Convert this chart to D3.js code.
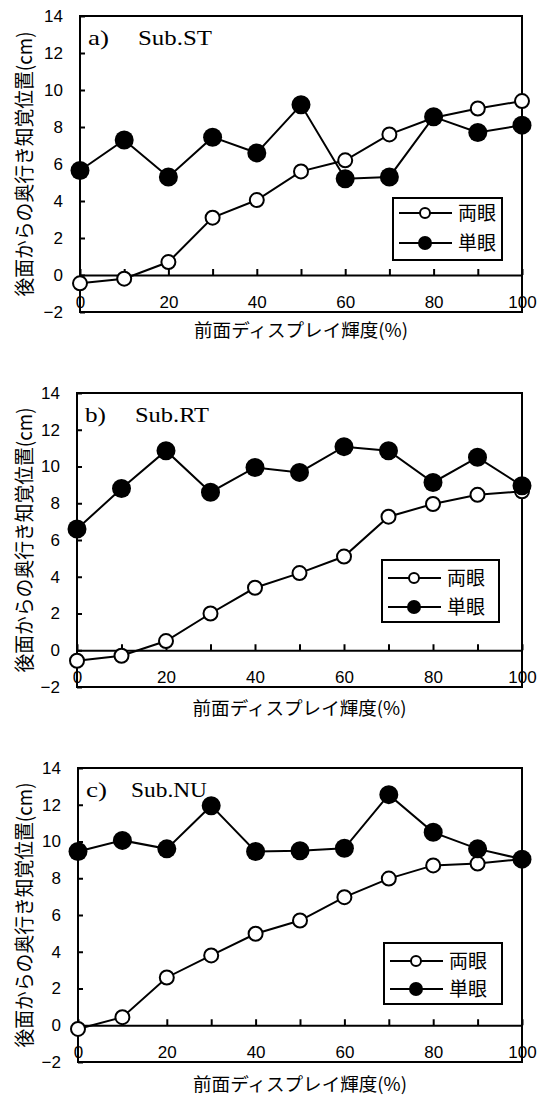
<!DOCTYPE html>
<html>
<head>
<meta charset="utf-8">
<script src="https://cdn.jsdelivr.net/npm/d3@7"></script>
<style>
  body { margin: 0; background: #fff; }
  svg { display: block; }
</style>
</head>
<body>
<div id="chart"></div>
<script>

// front display luminance (%)
var xVals = [0, 10, 20, 30, 40, 50, 60, 70, 80, 90, 100];
var xTicks = [0, 10, 20, 30, 40, 50, 60, 70, 80, 90, 100];
var xLabels = [0, 20, 40, 60, 80, 100];
var yTicks = [-2, 0, 2, 4, 6, 8, 10, 12, 14];

var seriesNames = ["両眼", "単眼"];
var panelLetters = ["a)", "b)", "c)"];
var subjects = ["Sub.ST", "Sub.RT", "Sub.NU"];

var binoA = [-0.45, -0.2, 0.7, 3.1, 4.05, 5.6, 6.2, 7.6, 8.5, 9.0, 9.4];
var monoA = [5.65, 7.3, 5.3, 7.45, 6.6, 9.2, 5.2, 5.3, 8.55, 7.7, 8.1];
var binoB = [-0.57, -0.3, 0.5, 2.0, 3.4, 4.2, 5.1, 7.27, 7.96, 8.46, 8.65];
var monoB = [6.6, 8.8, 10.86, 8.6, 9.95, 9.68, 11.08, 10.86, 9.13, 10.5, 8.95];
var binoC = [-0.2, 0.44, 2.6, 3.8, 4.98, 5.7, 6.97, 7.98, 8.7, 8.8, 9.04];
var monoC = [9.46, 10.06, 9.6, 11.95, 9.46, 9.5, 9.63, 12.55, 10.5, 9.6, 9.04];

var xTitle = "前面ディスプレイ輝度(%)";
var yTitle = "後面からの奥行き知覚位置(cm)";

var W = 552, H = 1095;
var JP = "'Noto Sans CJK JP', sans-serif";
var SANS = "'Liberation Sans', Arial, sans-serif";
var SERIF = "'Liberation Serif', 'Times New Roman', serif";

// box of each panel and where its legend sits
var panels = [
    {left: 80, right: 522, top: 16, bottom: 312, xTitleY: 337, legX: 393, legY: 198, legW: 109, legH: 62, rows: [15, 45], bino: binoA, mono: monoA},
    {left: 77, right: 522, top: 393, bottom: 687, xTitleY: 715, legX: 382, legY: 560, legW: 117, legH: 62, rows: [18, 47], bino: binoB, mono: monoB},
    {left: 78, right: 522, top: 768, bottom: 1062, xTitleY: 1091, legX: 384, legY: 943, legW: 118, legH: 61, rows: [18, 46], bino: binoC, mono: monoC}
];

var svg = d3.select('#chart')
    .append('svg')
    .attr('width', W)
    .attr('height', H);

panels.forEach(function(p, i) {

    var x = d3.scaleLinear().domain([0, 100]).range([p.left, p.right]);
    var y = d3.scaleLinear().domain([-2, 14]).range([p.bottom, p.top]);

    var g = svg.append('g');

    // y axis title
    var ty = (p.top + p.bottom) / 2;
    g.append('text')
        .attr('transform', 'translate(32,' + ty + ') rotate(-90)')
        .attr('text-anchor', 'middle')
        .attr('textLength', 265)
        .attr('lengthAdjust', 'spacingAndGlyphs')
        .style('font-family', JP)
        .style('font-size', '20px')
        .text(yTitle);

    // x axis title
    g.append('text')
        .attr('x', (p.left + p.right) / 2)
        .attr('y', p.xTitleY)
        .attr('text-anchor', 'middle')
        .attr('textLength', 214)
        .attr('lengthAdjust', 'spacingAndGlyphs')
        .style('font-family', JP)
        .style('font-size', '18px')
        .text(xTitle);

    // y axis, ticks pointing into the plot
    var yAxis = d3.axisLeft(y)
        .tickValues(yTicks)
        .tickSizeInner(-5)
        .tickSizeOuter(0)
        .tickPadding(17);
    var ga = g.append('g')
        .attr('transform', 'translate(' + p.left + ',0)')
        .call(yAxis);
    ga.select('.domain').remove();
    ga.selectAll('line').attr('stroke', '#000').attr('stroke-width', 2);
    ga.selectAll('text')
        .style('font-family', SANS)
        .style('font-size', '17px')
        .attr('fill', '#000');

    // x axis on the zero line, ticks pointing up, labels at the bottom
    var xAxis = d3.axisBottom(x)
        .tickValues(xTicks)
        .tickSizeInner(-6)
        .tickSizeOuter(0)
        .tickPadding(21)
        .tickFormat(function(d) { return xLabels.indexOf(d) >= 0 ? d : ""; });
    var gx = g.append('g')
        .attr('transform', 'translate(0,' + y(0) + ')')
        .call(xAxis);
    gx.select('.domain').attr('stroke', '#000').attr('stroke-width', 2);
    gx.selectAll('line').attr('stroke', '#000').attr('stroke-width', 2);
    gx.selectAll('text')
        .style('font-family', SANS)
        .style('font-size', '17px')
        .attr('fill', '#000');

    // plot border
    g.append('rect')
        .attr('x', p.left)
        .attr('y', p.top)
        .attr('width', p.right - p.left)
        .attr('height', p.bottom - p.top)
        .attr('fill', 'none')
        .attr('stroke', '#000')
        .attr('stroke-width', 2);

    // panel label
    g.append('text')
        .attr('x', p.left + 8)
        .attr('y', p.top + 29)
        .attr('textLength', 21)
        .attr('lengthAdjust', 'spacingAndGlyphs')
        .style('font-family', SERIF)
        .style('font-size', '22px')
        .text(panelLetters[i]);
    g.append('text')
        .attr('x', p.left + (i == 2 ? 53 : 58))
        .attr('y', p.top + 29)
        .attr('textLength', i == 2 ? 76 : 74)
        .attr('lengthAdjust', 'spacingAndGlyphs')
        .style('font-family', SERIF)
        .style('font-size', '22px')
        .text(subjects[i]);

    var line = d3.line()
        .x(function(d, k) { return x(xVals[k]); })
        .y(function(d) { return y(d); });

    // binocular: open circles
    g.append('path')
        .attr('d', line(p.bino))
        .attr('fill', 'none')
        .attr('stroke', '#000')
        .attr('stroke-width', 2);
    g.selectAll('.bino')
        .data(p.bino)
        .enter()
        .append('circle')
        .attr('class', 'bino')
        .attr('cx', function(d, k) { return x(xVals[k]); })
        .attr('cy', function(d) { return y(d); })
        .attr('r', 7)
        .attr('fill', '#fff')
        .attr('stroke', '#000')
        .attr('stroke-width', 2);

    // monocular: filled circles
    g.append('path')
        .attr('d', line(p.mono))
        .attr('fill', 'none')
        .attr('stroke', '#000')
        .attr('stroke-width', 2);
    g.selectAll('.mono')
        .data(p.mono)
        .enter()
        .append('circle')
        .attr('class', 'mono')
        .attr('cx', function(d, k) { return x(xVals[k]); })
        .attr('cy', function(d) { return y(d); })
        .attr('r', 9.5)
        .attr('fill', '#000');

    // legend
    var lg = g.append('g').attr('transform', 'translate(' + p.legX + ',' + p.legY + ')');
    lg.append('rect')
        .attr('width', p.legW)
        .attr('height', p.legH)
        .attr('fill', '#fff')
        .attr('stroke', '#000')
        .attr('stroke-width', 2);
    seriesNames.forEach(function(name, k) {
        var ry = p.rows[k];
        lg.append('line')
            .attr('x1', 6).attr('x2', 59)
            .attr('y1', ry).attr('y2', ry)
            .attr('stroke', '#000')
            .attr('stroke-width', 2);
        lg.append('circle')
            .attr('cx', 32)
            .attr('cy', ry)
            .attr('r', k == 0 ? 5 : 7)
            .attr('fill', k == 0 ? '#fff' : '#000')
            .attr('stroke', '#000')
            .attr('stroke-width', k == 0 ? 2 : 0);
        lg.append('text')
            .attr('x', 65)
            .attr('y', ry + 7)
            .style('font-family', JP)
            .style('font-size', '19px')
            .text(name);
    });
});

</script>
</body>
</html>
